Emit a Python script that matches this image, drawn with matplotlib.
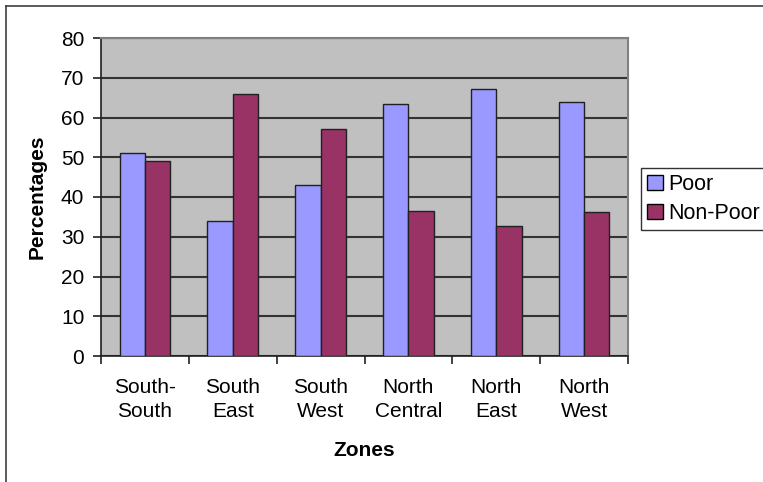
import matplotlib
matplotlib.use("Agg")
import matplotlib.pyplot as plt
from matplotlib.patches import Patch
from matplotlib.lines import Line2D
import numpy as np

zones = ["South-\nSouth", "South\nEast", "South\nWest", "North\nCentral", "North\nEast", "North\nWest"]
poor = [51.0, 34.0, 43.0, 63.5, 67.2, 63.8]
non_poor = [49.0, 66.0, 57.0, 36.5, 32.8, 36.2]
yticks = [0, 10, 20, 30, 40, 50, 60, 70, 80]

plt.rcParams['font.family'] = ['Liberation Sans', 'DejaVu Sans']

fig = plt.figure(figsize=(7.63, 4.82), dpi=100)
ax = fig.add_axes([101/763, 1-356/482, 527/763, 318/482])
ax.set_facecolor('#C0C0C0')

x = np.arange(len(zones))
w = 0.288
ax.bar(x - w/2, poor, w, color='#9999FF', edgecolor='#202020', linewidth=1.0, zorder=3)
ax.bar(x + w/2, non_poor, w, color='#993366', edgecolor='#202020', linewidth=1.0, zorder=3)

ax.set_xlim(-0.5, len(zones) - 0.5)
ax.set_ylim(0, 80)
ax.set_yticks(yticks)
ax.set_yticklabels([str(t) for t in yticks], fontsize=15)
ax.yaxis.grid(True, color='#333333', linewidth=1.5, zorder=1)
ax.set_axisbelow(True)

ax.set_xticks(x)
ax.set_xticklabels(zones, fontsize=15, linespacing=1.35)
ax.tick_params(axis='x', length=0, pad=16)
ax.set_xticks(np.arange(len(zones) + 1) - 0.5, minor=True)
ax.tick_params(axis='x', which='minor', length=6, width=1.2, color='#202020')
ax.tick_params(axis='y', length=6, width=1.2, color='#202020', pad=6)

for s in ['top', 'right']:
    ax.spines[s].set_color('#808080')
    ax.spines[s].set_linewidth(1.5)
for s in ['left', 'bottom']:
    ax.spines[s].set_color('#202020')
    ax.spines[s].set_linewidth(1.2)

ax.set_ylabel('Percentages', fontsize=15, fontweight='bold', labelpad=10)
ax.set_xlabel('Zones', fontsize=15, fontweight='bold', labelpad=14)

handles = [Patch(facecolor='#9999FF', edgecolor='black', linewidth=1.0),
           Patch(facecolor='#993366', edgecolor='black', linewidth=1.0)]
leg = fig.legend(handles, ['Poor', 'Non-Poor'], loc='upper left',
                 bbox_to_anchor=(641/763, 1-168/482), fontsize=15.5,
                 frameon=True, fancybox=False, handlelength=0.7, handleheight=0.7,
                 handletextpad=0.25, borderpad=0.3, labelspacing=0.35, borderaxespad=0)
leg.get_frame().set_edgecolor('black')
leg.get_frame().set_linewidth(1.0)

# outer chart border (left and top visible)
fig.add_artist(Line2D([6/763, 6/763], [0, 1-6/482], color='#404040', linewidth=1.2, transform=fig.transFigure))
fig.add_artist(Line2D([6/763, 1], [1-6/482, 1-6/482], color='#404040', linewidth=1.2, transform=fig.transFigure))

fig.savefig('out.png', dpi=100)
